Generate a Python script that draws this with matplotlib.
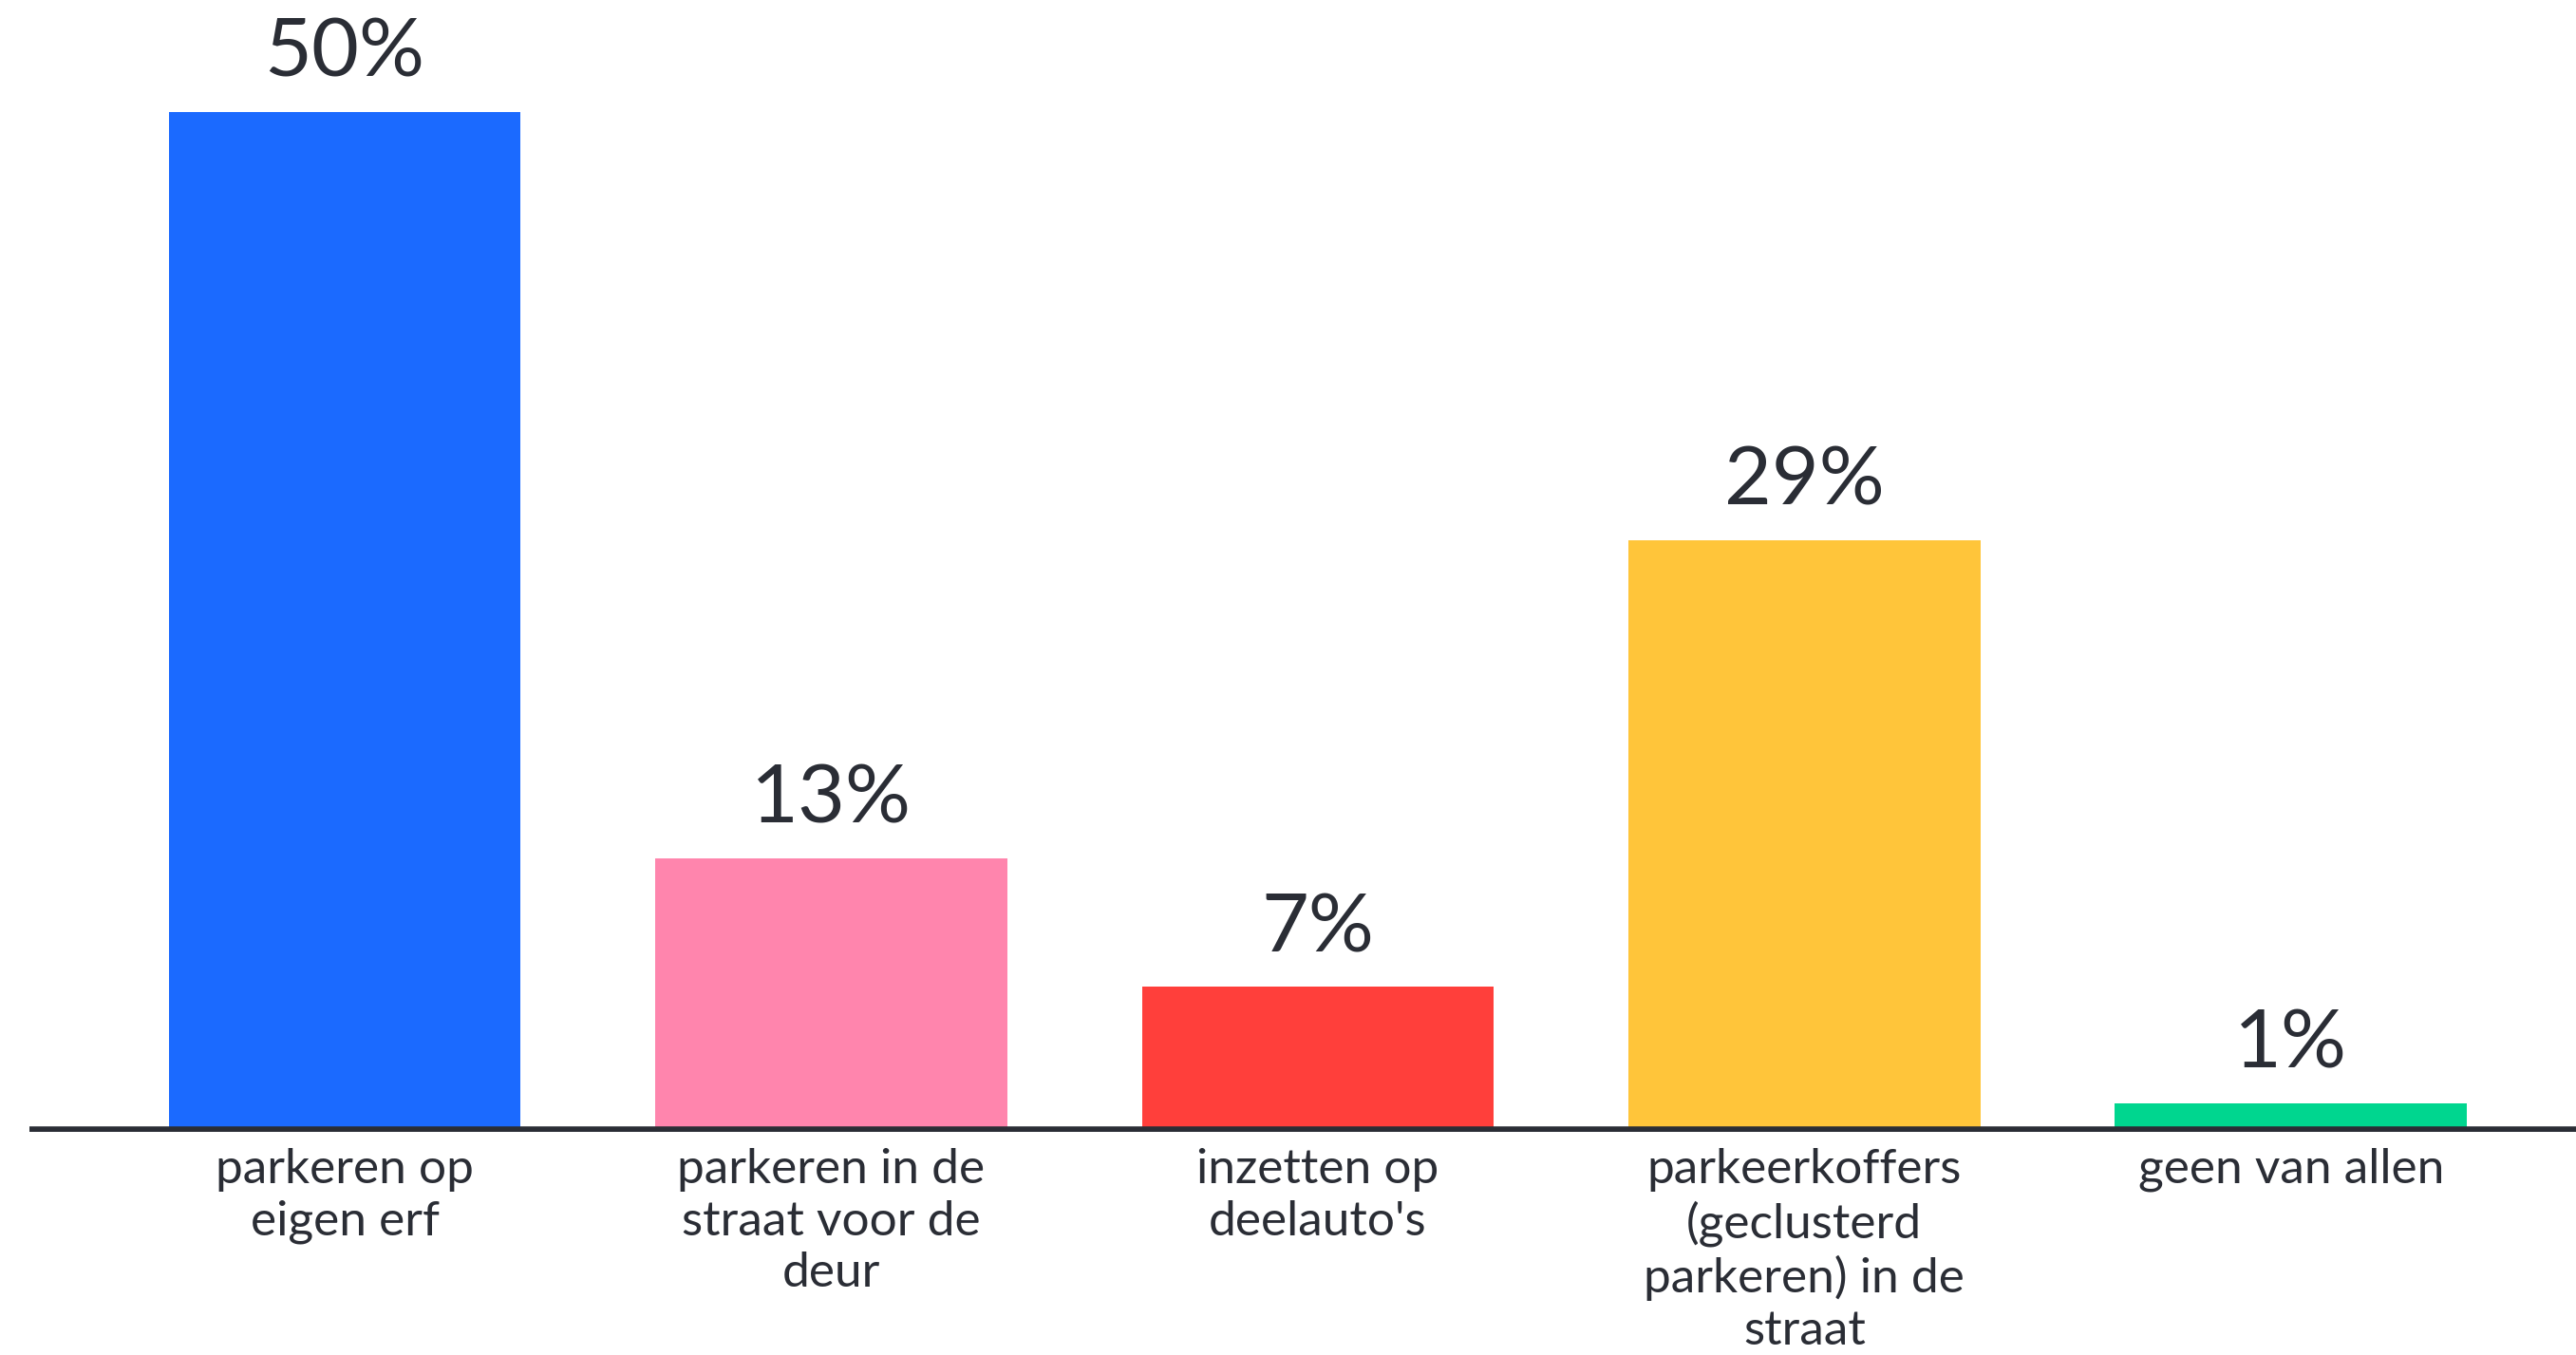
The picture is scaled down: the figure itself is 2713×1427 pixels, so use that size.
import matplotlib as mpl
mpl.use('Agg')
import matplotlib.pyplot as plt

# data
categories = ["parkeren op\neigen erf",
              "parkeren in de\nstraat voor de\ndeur",
              "inzetten op\ndeelauto's",
              "parkeerkoffers\n(geclusterd\nparkeren) in de\nstraat",
              "geen van allen"]
values = [50, 13.4, 7.1, 29.0, 1.4]          # bar heights as measured
value_labels = ["50%", "13%", "7%", "29%", "1%"]  # labels as printed
colors = ["#1B6AFF", "#FF85AD", "#FF3F3B", "#FFC53A", "#00D68F"]

text_color = "#2A2D35"
plt.rcParams['font.family'] = ['Lato', 'DejaVu Sans']

W, H = 2713, 1427
fig = plt.figure(figsize=(W / 100, H / 100), dpi=100)
base_px = 1192  # baseline, pixels from top
ax = fig.add_axes([31 / W, (H - base_px) / H, (W - 31) / W, base_px / H])

x = range(len(values))
ax.bar(x, values, width=0.723, color=colors, zorder=2)
ax.set_xlim(-0.648, 4.586)
ax.set_ylim(0, 50 * base_px / 1074)

# baseline
ax.axhline(0, color=text_color, linewidth=9, zorder=3)

# value labels
for i, (v, lab) in enumerate(zip(values, value_labels)):
    ax.annotate(lab, (i, v), xytext=(0, 16), textcoords='offset points',
                ha='center', va='bottom', fontsize=62, color=text_color)

# category labels
for i, c in enumerate(categories):
    ax.annotate(c, (i, 0), xytext=(0, -12), textcoords='offset points',
                ha='center', va='top', fontsize=37, color=text_color,
                linespacing=1.24, annotation_clip=False)

for s in ax.spines.values():
    s.set_visible(False)
ax.set_xticks([])
ax.set_yticks([])

fig.savefig("out.png", dpi=100, facecolor="white")
plt.close("all")
